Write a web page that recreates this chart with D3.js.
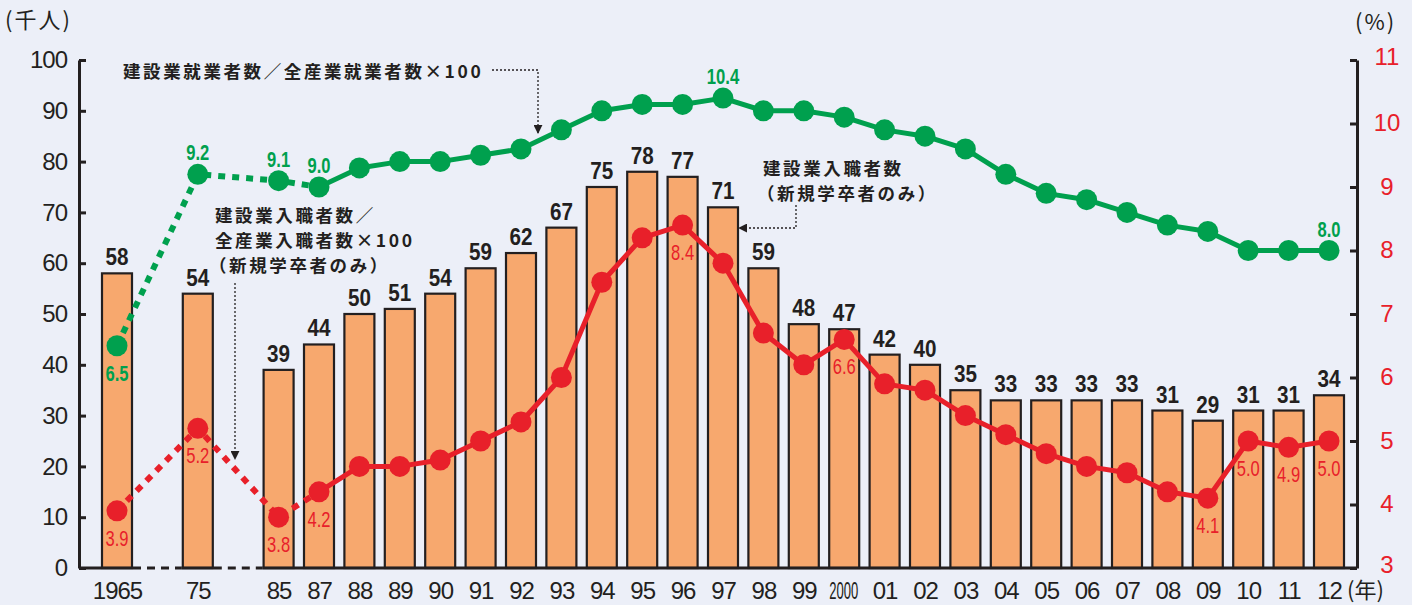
<!DOCTYPE html>
<html>
<head>
<meta charset="utf-8">
<script src="https://cdn.jsdelivr.net/npm/d3@7"></script>
<style>
  body { margin: 0; background: #ECEFF8; }
  svg { display: block; }
  .num { font-family: "Liberation Sans", Arial, sans-serif; }
  .jp { font-family: "Noto Sans CJK JP", sans-serif; }
</style>
</head>
<body>
<div id="chart"></div>
<script>
// year labels and their slot on the x axis (gaps at 1970 and 1980)
var categories = ["1965","75","85","87","88","89","90","91","92","93","94","95","96","97","98","99","2000","01","02","03","04","05","06","07","08","09","10","11","12"];
var slots = [0,2,4,5,6,7,8,9,10,11,12,13,14,15,16,17,18,19,20,21,22,23,24,25,26,27,28,29,30];
// 建設業入職者数（新規学卒者のみ, 千人）
var hires = [58,54,39,44,50,51,54,59,62,67,75,78,77,71,59,48,47,42,40,35,33,33,33,33,31,29,31,31,34];
// 建設業就業者数／全産業就業者数×100 (%)
var workShare = [6.5,9.2,9.1,9.0,9.3,9.4,9.4,9.5,9.6,9.9,10.2,10.3,10.3,10.4,10.2,10.2,10.1,9.9,9.8,9.6,9.2,8.9,8.8,8.6,8.4,8.3,8.0,8.0,8.0];
// 建設業入職者数／全産業入職者数×100 (%)
var hireShare = [3.9,5.2,3.8,4.2,4.6,4.6,4.7,5.0,5.3,6.0,7.5,8.2,8.4,7.8,6.7,6.2,6.6,5.9,5.8,5.4,5.1,4.8,4.6,4.5,4.2,4.1,5.0,4.9,5.0];
var leftTicks = [0,10,20,30,40,50,60,70,80,90,100];
var rightTicks = [3,4,5,6,7,8,9,10,11];
var workLabelled = ["1965","75","85","87","97","12"];
var hireLabelled = ["1965","75","85","87","96","2000","09","10","11","12"];

var width = 1412, height = 605;
var plotL = 79, plotR = 1357, plotT = 60, plotB = 568;
var green = "#00A04E", red = "#E8202A", ink = "#231F20";

var svg = d3.select("#chart").append("svg")
    .attr("width", width).attr("height", height);
svg.append("rect").attr("width", width).attr("height", height).attr("fill", "#ECEFF8");

var x = d3.scaleLinear().domain([0, 30]).range([117, 1329]);
var y = d3.scaleLinear().domain([0, 100]).range([plotB, plotT]);
var y2 = d3.scaleLinear().domain([3, 11]).range([plotB, plotT]);
var barW = 30;

// squeeze numbers to look like a condensed face
function narrowLen(s, digitW) {
  return s.split("").reduce((a, ch) => a + (ch === "." ? 4 : digitW), 0);
}

var rows = categories.map(function(c, i) {
  return {cat: c, slot: slots[i], hires: hires[i], work: workShare[i], hire: hireShare[i]};
});

// bars
svg.selectAll("rect.bar").data(rows).enter().append("rect")
  .attr("class", "bar")
  .attr("x", d => x(d.slot) - barW / 2)
  .attr("y", d => y(d.hires))
  .attr("width", barW)
  .attr("height", d => y(0) - y(d.hires))
  .attr("fill", "#F7A86E")
  .attr("stroke", ink)
  .attr("stroke-width", 2.2);

svg.selectAll("text.barval").data(rows).enter().append("text")
  .attr("class", "barval num")
  .attr("x", d => x(d.slot))
  .attr("y", d => y(d.hires) - 8)
  .attr("text-anchor", "middle")
  .attr("font-size", 23).attr("font-weight", "bold")
  .attr("textLength", d => narrowLen(String(d.hires), 11.5)).attr("lengthAdjust", "spacingAndGlyphs")
  .attr("fill", ink)
  .text(d => d.hires);

// left axis
var yAxis = d3.axisLeft(y).tickValues(leftTicks).tickSize(-7).tickSizeOuter(0).tickPadding(12);
var gl = svg.append("g").attr("transform", `translate(${plotL},0)`).call(yAxis);
gl.selectAll("path, line").attr("stroke", ink).attr("stroke-width", 3);
gl.selectAll("text").attr("class", "num").attr("font-size", 24).attr("fill", ink)
  .attr("letter-spacing", -1);

// right axis
var yAxis2 = d3.axisRight(y2).tickValues(rightTicks).tickSize(-7).tickSizeOuter(0).tickPadding(30);
var gr = svg.append("g").attr("transform", `translate(${plotR},0)`).call(yAxis2);
gr.selectAll("path, line").attr("stroke", ink).attr("stroke-width", 3);
gr.selectAll("text").attr("class", "num").attr("font-size", 24).attr("fill", red)
  .attr("text-anchor", "middle")
  .attr("dy", d => d === 3 ? "0.2em" : (d === 11 ? "0.18em" : "0.3em"));

// baseline, dashed across the missing years
var half = barW / 2 + 1;
var baseSegs = [
  [plotL, x(0) + half, false],
  [x(0) + half, x(2) - half, true],
  [x(2) - half, x(2) + half, false],
  [x(2) + half, x(4) - half, true],
  [x(4) - half, plotR, false]
];
svg.selectAll("line.base").data(baseSegs).enter().append("line")
  .attr("x1", d => d[0]).attr("x2", d => d[1])
  .attr("y1", plotB).attr("y2", plotB)
  .attr("stroke", ink).attr("stroke-width", 3)
  .attr("stroke-dasharray", d => d[2] ? "8,6" : null);

// x labels
var xAxis = d3.axisBottom(x).tickValues(slots).tickSize(0).tickPadding(14)
  .tickFormat((d, i) => categories[i]);
var gx = svg.append("g").attr("transform", `translate(0,${plotB})`).call(xAxis);
gx.select(".domain").remove();
gx.selectAll("text").attr("class", "num").attr("font-size", 24).attr("fill", ink)
  .attr("letter-spacing", -1);
gx.selectAll("text").filter((d, i) => categories[i] === "2000")
  .attr("letter-spacing", 0).attr("dx", -1)
  .attr("textLength", 29).attr("lengthAdjust", "spacingAndGlyphs");

// lines
function drawLine(key, color, scale) {
  var line = d3.line().x(d => x(d.slot)).y(d => scale(d[key]));
  svg.append("path").datum(rows.slice(0, 4))
    .attr("d", line).attr("fill", "none")
    .attr("stroke", color).attr("stroke-width", 6).attr("stroke-dasharray", "7,7");
  svg.append("path").datum(rows.slice(3))
    .attr("d", line).attr("fill", "none")
    .attr("stroke", color).attr("stroke-width", 5).attr("stroke-linejoin", "round");
  svg.selectAll("circle." + key).data(rows).enter().append("circle")
    .attr("class", key)
    .attr("cx", d => x(d.slot)).attr("cy", d => scale(d[key]))
    .attr("r", 10.5).attr("fill", color);
}
drawLine("work", green, y2);
drawLine("hire", red, y2);

// green value labels
svg.selectAll("text.wlab").data(rows.filter(d => workLabelled.includes(d.cat))).enter().append("text")
  .attr("class", "wlab num")
  .attr("x", d => x(d.slot))
  .attr("y", d => d.cat === "1965" ? y2(d.work) + 35 : y2(d.work) - 14)
  .attr("text-anchor", "middle").attr("font-size", 22).attr("font-weight", "bold")
  .attr("textLength", d => narrowLen(d.work.toFixed(1), 9.5)).attr("lengthAdjust", "spacingAndGlyphs")
  .attr("fill", green)
  .text(d => d.work.toFixed(1));

// red value labels
svg.selectAll("text.hlab").data(rows.filter(d => hireLabelled.includes(d.cat))).enter().append("text")
  .attr("class", "hlab num")
  .attr("x", d => x(d.slot))
  .attr("y", d => y2(d.hire) + 35)
  .attr("text-anchor", "middle").attr("font-size", 22)
  .attr("textLength", d => narrowLen(d.hire.toFixed(1), 9.5)).attr("lengthAdjust", "spacingAndGlyphs")
  .attr("fill", red)
  .text(d => d.hire.toFixed(1));

// unit labels
svg.append("text").attr("class", "jp").attr("x", 5).attr("y", 28)
  .attr("font-size", 22).attr("letter-spacing", 2).attr("fill", ink).text("(千人)");
svg.append("text").attr("class", "jp").attr("x", 1355).attr("y", 30)
  .attr("font-size", 22).attr("letter-spacing", 2).attr("fill", ink).text("(%)");
svg.append("text").attr("class", "jp").attr("x", 1347).attr("y", 598)
  .attr("font-size", 22).attr("fill", ink).text("(年)");

// annotations
var defs = svg.append("defs");
defs.append("marker").attr("id", "arr").attr("viewBox", "0 0 10 10")
  .attr("refX", 9).attr("refY", 5).attr("markerWidth", 9).attr("markerHeight", 9)
  .attr("markerUnits", "userSpaceOnUse").attr("orient", "auto")
  .append("path").attr("d", "M0,0L10,5L0,10Z").attr("fill", ink);

function note(lines, x0, y0, lh) {
  lines.forEach(function(t, i) {
    svg.append("text").attr("class", "jp")
      .attr("x", x0 + (t.charAt(0) === "（" ? -6 : 0)).attr("y", y0 + i * lh)
      .attr("font-size", 17.5).attr("font-weight", "bold").attr("letter-spacing", 2.6)
      .attr("fill", ink).text(t);
  });
}
function pointer(pts) {
  svg.append("path").attr("d", d3.line()(pts))
    .attr("fill", "none").attr("stroke", ink).attr("stroke-width", 1.3)
    .attr("stroke-dasharray", "2,2").attr("marker-end", "url(#arr)");
}

note(["建設業就業者数／全産業就業者数×100"], 123, 78, 0);
pointer([[492, 70], [538, 70], [538, 133]]);

note(["建設業入職者数／", "全産業入職者数×100", "（新規学卒者のみ）"], 215, 222, 25);
pointer([[235, 283], [235, 459]]);

note(["建設業入職者数", "（新規学卒者のみ）"], 763, 175, 25);
pointer([[796, 205], [796, 228], [739, 228]]);
</script>
</body>
</html>
